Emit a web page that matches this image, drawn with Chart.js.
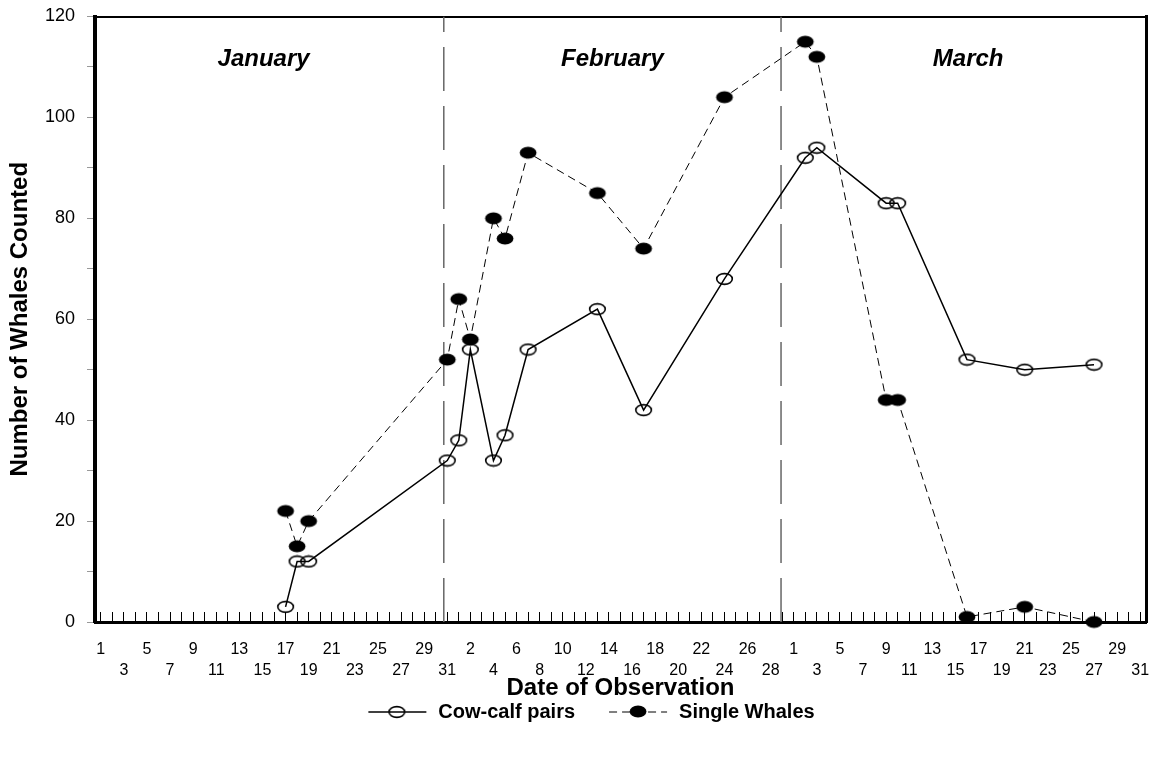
<!DOCTYPE html>
<html>
<head>
<meta charset="utf-8">
<title>Whale counts</title>
<script src="https://cdn.jsdelivr.net/npm/chart.js@4/dist/chart.umd.min.js"></script>
<style>
  html, body { margin: 0; padding: 0; background: #fff; }
  canvas { display: block; }
</style>
</head>
<body>
<canvas id="whaleChart" width="1156" height="757"></canvas>
<script>
// survey dates (month/day) and counts
const obsDates = ["1/17", "1/18", "1/19", "1/31", "2/1", "2/2", "2/4", "2/5", "2/7", "2/13",
  "2/17", "2/24", "3/2", "3/3", "3/9", "3/10", "3/16", "3/21", "3/27"];
const cowCalf = [3, 12, 12, 32, 36, 54, 32, 37, 54, 62, 42, 68, 92, 94, 83, 83, 52, 50, 51];
const singles = [22, 15, 20, 52, 64, 56, 80, 76, 93, 85, 74, 104, 115, 112, 44, 44, 1, 3, 0];
const seriesNames = ["Cow-calf pairs", "Single Whales"];

// day numbers printed under the axis (two staggered rows)
const janTicks = [1, 3, 5, 7, 9, 11, 13, 15, 17, 19, 21, 23, 25, 27, 29, 31];
const febTicks = [2, 4, 6, 8, 10, 12, 14, 16, 18, 20, 22, 24, 26, 28];
const marTicks = [1, 3, 5, 7, 9, 11, 13, 15, 17, 19, 21, 23, 25, 27, 29, 31];
const monthNames = ["January", "February", "March"];
const monthLength = [31, 29, 31];
const yTicks = [0, 20, 40, 60, 80, 100, 120];
const monthDividers = [30.7, 59.9];

const FONT = "'Liberation Sans', Arial, Helvetica, sans-serif";
Chart.defaults.font.family = FONT;
Chart.defaults.color = "#000";

const monthStart = [0, monthLength[0], monthLength[0] + monthLength[1]];
const totalDays = monthLength[0] + monthLength[1] + monthLength[2];
const allDays = Array.from({ length: totalDays }, (_, i) => i + 1);
const yMax = yTicks[yTicks.length - 1];

function dayOf(s) {
  const [m, d] = s.split("/").map(Number);
  return monthStart[m - 1] + d;
}

// label text per day, every other label pushed to a second line
const tickText = {};
[janTicks, febTicks, marTicks].forEach((list, m) => {
  list.forEach(d => { tickText[monthStart[m] + d] = String(d); });
});
Object.keys(tickText).map(Number).sort((a, b) => a - b).forEach((day, i) => {
  if (i % 2 === 1) tickText[day] = ["", tickText[day]];
});

// oval markers like the original
function oval(filled, rx, ry) {
  const c = document.createElement("canvas");
  c.width = Math.ceil(rx * 2 + 3);
  c.height = Math.ceil(ry * 2 + 3);
  const g = c.getContext("2d");
  g.beginPath();
  g.ellipse(c.width / 2, c.height / 2, rx, ry, 0, 0, Math.PI * 2);
  if (filled) {
    g.fillStyle = "#000";
    g.fill();
  } else {
    g.strokeStyle = "#000";
    g.lineWidth = 1.6;
    g.stroke();
  }
  return c;
}
const openMark = oval(false, 7.8, 5.4);
const fullMark = oval(true, 8.4, 6);

function legendSample(mark, dash, width) {
  const c = document.createElement("canvas");
  c.width = 92;
  c.height = 16;
  const g = c.getContext("2d");
  g.strokeStyle = "#000";
  g.lineWidth = width;
  g.setLineDash(dash);
  g.beginPath();
  g.moveTo(32, 8);
  g.lineTo(90, 8);
  g.stroke();
  g.drawImage(mark, 61 - Math.round(mark.width / 2), 8 - Math.round(mark.height / 2));
  return c;
}
const legendMarks = [legendSample(openMark, [], 1.5), legendSample(fullMark, [8, 5], 1)];

const monthLabelPlugin = {
  id: "monthLabels",
  afterDatasetsDraw(chart, args, opts) {
    const { ctx, scales: { x, y } } = chart;
    ctx.save();
    ctx.font = "italic bold 24px " + FONT;
    ctx.fillStyle = "#000";
    ctx.textAlign = "center";
    ctx.textBaseline = "middle";
    monthNames.forEach((name, i) => {
      ctx.fillText(name, x.getPixelForValue(opts.days[i]), y.getPixelForValue(opts.value));
    });
    ctx.restore();
  }
};

const points = vals => obsDates.map((s, i) => ({ x: dayOf(s), y: vals[i] }));

new Chart(document.getElementById("whaleChart"), {
  type: "line",
  data: {
    datasets: [
      {
        label: seriesNames[0],
        data: points(cowCalf),
        borderColor: "#000",
        borderWidth: 1.5,
        pointStyle: openMark,
        pointRadius: 8,
        clip: false,
        order: 1
      },
      {
        label: seriesNames[1],
        data: points(singles),
        borderColor: "#000",
        borderWidth: 1,
        borderDash: [8, 5],
        pointStyle: fullMark,
        pointRadius: 8,
        clip: false,
        order: 0
      },
      ...monthDividers.map(d => ({
        label: "",
        data: [{ x: d, y: 0 }, { x: d, y: yMax }],
        borderColor: "#666",
        borderWidth: 1.5,
        borderDash: [44, 15],
        pointRadius: 0,
        order: 5
      }))
    ]
  },
  options: {
    responsive: false,
    animation: false,
    devicePixelRatio: 1,
    layout: { padding: { left: 5, right: 10, top: 16.5, bottom: 25 } },
    plugins: {
      legend: {
        position: "bottom",
        labels: {
          usePointStyle: true,
          pointStyleWidth: 92,
          padding: 2,
          color: "#000",
          font: { size: 20, weight: "bold" },
          generateLabels: () => seriesNames.map((text, i) => ({
            text,
            pointStyle: legendMarks[i],
            fillStyle: "#000",
            strokeStyle: "#000",
            lineWidth: 0,
            hidden: false,
            datasetIndex: i
          }))
        }
      },
      tooltip: { enabled: false },
      monthLabels: { days: [15.1, 45.3, 76.1], value: 111.5 }
    },
    scales: {
      x: {
        type: "linear",
        position: "bottom",
        min: 0.5,
        max: totalDays + 0.5,
        afterBuildTicks: s => { s.ticks = allDays.map(v => ({ value: v })); },
        afterFit: s => {
          s.height = 78;
          s.paddingLeft = 0;
          s.paddingRight = 0;
        },
        ticks: {
          autoSkip: false,
          maxRotation: 0,
          minRotation: 0,
          padding: 27.5,
          font: { size: 16, lineHeight: 1.3125 },
          callback: v => tickText[v] ?? ""
        },
        grid: { drawOnChartArea: false, tickLength: -10, tickColor: "#000", tickWidth: 1 },
        border: { color: "#000", width: 3 },
        title: {
          display: true,
          text: "Date of Observation",
          font: { size: 24, weight: "bold", lineHeight: 1 },
          padding: 0
        }
      },
      x2: {
        type: "linear",
        position: "top",
        min: 0.5,
        max: totalDays + 0.5,
        afterFit: s => {
          s.height = 0;
          s.paddingLeft = 0;
          s.paddingRight = 0;
        },
        ticks: { display: false },
        grid: { drawOnChartArea: false, drawTicks: false },
        border: { color: "#000", width: 2 }
      },
      y: {
        position: "left",
        min: 0,
        max: yMax,
        afterFit: s => {
          s.width = 90;
          s.paddingTop = 0;
          s.paddingBottom = 0;
        },
        ticks: {
          stepSize: 10,
          padding: 12,
          font: { size: 18 },
          callback: v => (yTicks.includes(v) ? v : "")
        },
        grid: { drawOnChartArea: false, tickLength: 8, tickColor: "#999" },
        border: { color: "#000", width: 4 },
        title: {
          display: true,
          text: "Number of Whales Counted",
          font: { size: 24, weight: "bold", lineHeight: 1 },
          padding: { top: 3, bottom: 0 }
        }
      },
      y2: {
        position: "right",
        min: 0,
        max: yMax,
        afterFit: s => {
          s.width = 0;
          s.paddingTop = 0;
          s.paddingBottom = 0;
        },
        ticks: { display: false },
        grid: { drawOnChartArea: false, drawTicks: false },
        border: { color: "#000", width: 3 }
      }
    }
  },
  plugins: [monthLabelPlugin]
});
</script>
</body>
</html>
